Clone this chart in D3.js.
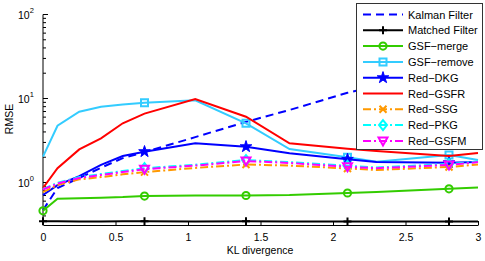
<!DOCTYPE html>
<html>
<head>
<meta charset="utf-8">
<script src="https://cdn.jsdelivr.net/npm/d3@7"></script>
<style>
  body { margin: 0; background: #fff; }
  text { font-family: "Liberation Sans", Arial, sans-serif; fill: #000; }
</style>
</head>
<body>
<div id="chart"></div>
<script>
// data
var kl = [0, 0.1, 0.25, 0.4, 0.55, 0.7, 1.05, 1.4, 1.7, 2.1, 2.3, 2.8, 3]
var markerAt = [0.7, 1.4, 2.1, 2.8]

var kalman   = [0.47, 0.86, 1.13, 1.5, 1.95, 2.3, 3.47, 5.27, 7.3, 11.7, 14.1, 26, 32.6]
var matched  = [0.345, 0.345, 0.344, 0.344, 0.345, 0.345, 0.344, 0.345, 0.344, 0.344, 0.344, 0.344, 0.343]
var gsfMerge = [0.46, 0.64, 0.65, 0.66, 0.67, 0.69, 0.70, 0.70, 0.71, 0.75, 0.77, 0.84, 0.87]
var gsfRemove = [2.03, 4.74, 6.96, 7.99, 8.5, 8.9, 9.5, 5.07, 2.5, 2.0, 1.77, 2.13, 1.85]
var redDKG   = [0.71, 0.93, 1.19, 1.62, 2.07, 2.33, 2.93, 2.67, 2.23, 1.89, 1.75, 1.72, 1.75]
var redGSFR  = [0.86, 1.48, 2.48, 3.36, 5.07, 6.6, 9.86, 6.07, 2.93, 2.53, 2.37, 2.07, 2.24]
var redSSG   = [0.77, 0.93, 1.09, 1.16, 1.25, 1.33, 1.49, 1.64, 1.59, 1.47, 1.41, 1.53, 1.64]
var redPKG   = [0.84, 0.99, 1.16, 1.26, 1.37, 1.48, 1.63, 1.85, 1.75, 1.58, 1.51, 1.66, 1.78]
var redGSFM  = [0.825, 0.97, 1.13, 1.23, 1.33, 1.44, 1.59, 1.80, 1.71, 1.54, 1.48, 1.62, 1.75]

var xTicks = [0, 0.5, 1, 1.5, 2, 2.5, 3]
var yMajor = [1, 10, 100]

var series = [
  { name: 'Kalman Filter', values: kalman, color: '#0000ff', dash: '8,5', marker: null },
  { name: 'Matched Filter', values: matched, color: '#000000', dash: null, marker: 'plus', first: true },
  { name: 'GSF\u2212merge', values: gsfMerge, color: '#33cc00', dash: null, marker: 'circle', first: true },
  { name: 'GSF\u2212remove', values: gsfRemove, color: '#33ccff', dash: null, marker: 'square' },
  { name: 'Red\u2212DKG', values: redDKG, color: '#0000ff', dash: null, marker: 'star' },
  { name: 'Red\u2212GSFR', values: redGSFR, color: '#ff0000', dash: null, marker: null },
  { name: 'Red\u2212SSG', values: redSSG, color: '#ff9900', dash: '8,3,2,3', marker: 'x' },
  { name: 'Red\u2212PKG', values: redPKG, color: '#00ffff', dash: '8,3,2,3', marker: 'diamond' },
  { name: 'Red\u2212GSFM', values: redGSFM, color: '#ff00ff', dash: '8,3,2,3', marker: 'tri' }
]

var W = 485, H = 261
var svg = d3.select('#chart').append('svg')
    .attr('width', W)
    .attr('height', H)

var x = d3.scaleLinear().domain([0, 3]).range([43, 478])
var y = d3.scaleLog().domain([0.312, 100]).range([225, 14.5])

// marker shapes
function markerPath(type) {
  switch (type) {
    case 'plus': return 'M-4,0H4M0,-4V4'
    case 'circle': return 'M3.6,0A3.6,3.6,0,1,1,-3.6,0A3.6,3.6,0,1,1,3.6,0Z'
    case 'square': return 'M-3.5,-3.5H3.5V3.5H-3.5Z'
    case 'star': return d3.symbol(d3.symbolStar, 42)()
    case 'x': return 'M-3.5,-3.5L3.5,3.5M-3.5,3.5L3.5,-3.5'
    case 'diamond': return 'M0,-5L4,0L0,5L-4,0Z'
    case 'tri': return 'M-4.5,-3.5H4.5L0,4.5Z'
  }
  return null
}

// axes
var xaxis = d3.axisBottom(x).tickValues(xTicks).tickSizeInner(-4).tickSizeOuter(0).tickPadding(9)
    .tickFormat(d3.format('~g'))
var gx = svg.append('g')
    .attr('transform', 'translate(0,' + 225 + ')')
    .call(xaxis)
gx.selectAll('text').style('font-size', '10.5px').attr('dy', '0.71em')
gx.select('.domain').attr('stroke', '#000')

var minor = []
for (var e = -1; e < 2; e++) for (var k = 2; k < 10; k++) {
  var v = k * Math.pow(10, e)
  if (v >= 0.312) minor.push(v)
}

var gy = svg.append('g').attr('transform', 'translate(43,0)')
gy.append('line').attr('y1', y(100)).attr('y2', 225).attr('stroke', '#000')
gy.selectAll('.minor').data(minor).enter().append('line')
    .attr('x1', 0).attr('x2', 3)
    .attr('y1', d => y(d)).attr('y2', d => y(d))
    .attr('stroke', '#000')
gy.selectAll('.major').data(yMajor).enter().append('line')
    .attr('x1', 0).attr('x2', 5)
    .attr('y1', d => y(d)).attr('y2', d => y(d))
    .attr('stroke', '#000')
var lab = gy.selectAll('.lab').data(yMajor).enter().append('text')
    .attr('x', -25).attr('y', d => y(d) + 4)
    .style('font-size', '10.5px')
lab.append('tspan').text('10')
lab.append('tspan').attr('dy', -6).style('font-size', '7.5px').text(d => Math.round(Math.log10(d)))

// lines
var line = d3.line()
    .x((d, i) => x(kl[i]))
    .y(d => y(d))

series.forEach(function (s) {
  svg.append('path')
      .attr('d', line(s.values))
      .attr('fill', 'none')
      .attr('stroke', s.color)
      .attr('stroke-width', 2)
      .attr('stroke-dasharray', s.dash)

  if (!s.marker) return
  var pts = (s.first ? [0] : []).concat(markerAt)
  svg.selectAll(null).data(pts).enter().append('path')
      .attr('d', markerPath(s.marker))
      .attr('transform', d => 'translate(' + x(d) + ',' + y(s.values[kl.indexOf(d)]) + ')')
      .attr('fill', s.marker == 'star' ? s.color : 'none')
      .attr('stroke', s.color)
      .attr('stroke-width', s.marker == 'star' ? 1 : 2)
})

// axis titles
svg.append('text')
    .text('KL divergence')
    .attr('text-anchor', 'middle')
    .attr('x', 260)
    .attr('y', 254)
    .style('font-size', '10.5px')

svg.append('text')
    .text('RMSE')
    .attr('text-anchor', 'middle')
    .attr('transform', 'translate(13,119) rotate(-90)')
    .style('font-size', '10.5px')

// legend
var legend = svg.append('g')
legend.append('rect')
    .attr('x', 356.5).attr('y', 3.5)
    .attr('width', 126).attr('height', 146)
    .attr('fill', '#fff')
    .attr('stroke', '#333')

var items = legend.selectAll('.item').data(series).enter().append('g')
    .attr('transform', (d, i) => 'translate(0,' + (14.5 + i * 15.8) + ')')
items.append('line')
    .attr('x1', 363).attr('x2', 403)
    .attr('stroke', d => d.color)
    .attr('stroke-width', 2)
    .attr('stroke-dasharray', d => d.dash)
items.filter(d => d.marker).append('path')
    .attr('d', d => markerPath(d.marker))
    .attr('transform', 'translate(383,0)')
    .attr('fill', d => d.marker == 'star' ? d.color : 'none')
    .attr('stroke', d => d.color)
    .attr('stroke-width', d => d.marker == 'star' ? 1 : 2)
items.append('text')
    .text(d => d.name)
    .attr('x', 408)
    .attr('y', 4)
    .style('font-size', '11px')
</script>
</body>
</html>
